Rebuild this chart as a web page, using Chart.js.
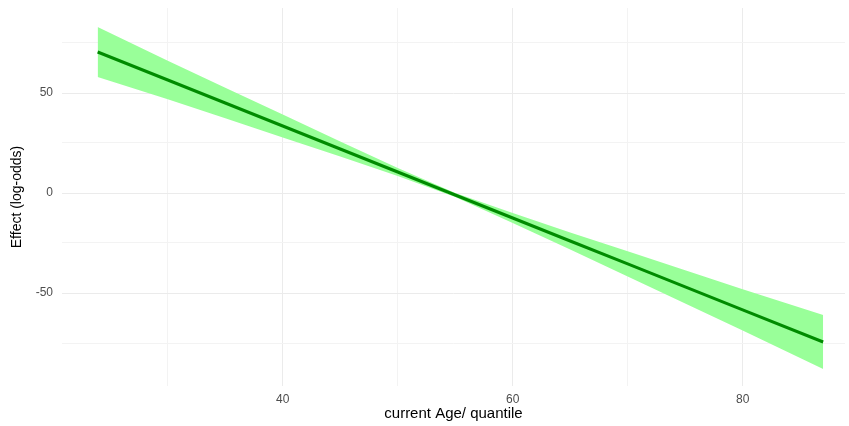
<!DOCTYPE html>
<html>
<head>
<meta charset="utf-8">
<script src="https://cdn.jsdelivr.net/npm/chart.js@4"></script>
<style>
html,body{margin:0;padding:0;background:#fff;}
#wrap{width:849px;height:426px;position:relative;}
</style>
</head>
<body>
<div id="wrap"><canvas id="c" width="849" height="426"></canvas></div>
<script>
const ages  = [23.9, 30, 35, 40, 45, 50, 55, 60, 65, 70, 75, 80, 87];
const fit   = [70.5, 56.5, 45.0, 33.5, 22.0, 10.5, -1.0, -12.5, -24.0, -35.4, -46.9, -58.4, -74.5];
const lower = [58.0, 46.9, 37.4, 27.8, 18.2, 8.5, -2.0, -15.0, -28.3, -41.7, -55.2, -68.7, -88.0];
const upper = [83.0, 66.1, 52.6, 39.2, 25.8, 12.5, 0.0, -10.0, -19.7, -29.1, -38.6, -48.1, -61.0];
const xTicks = [30, 40, 50, 60, 70, 80];
const xLabels = [40, 60, 80];
const yTicks = [-75, -50, -25, 0, 25, 50, 75];
const yLabels = [-50, 0, 50];

const pts = arr => ages.map((a, i) => ({x: a, y: arr[i]}));

new Chart(document.getElementById('c'), {
  type: 'line',
  data: {
    datasets: [
      {data: pts(fit), borderColor: '#008B00', borderWidth: 3, pointRadius: 0, fill: false, tension: 0},
      {data: pts(upper), borderWidth: 0, borderColor: 'rgba(0,0,0,0)', pointRadius: 0, fill: '+1', backgroundColor: 'rgba(153,255,153,1)', tension: 0},
      {data: pts(lower), borderWidth: 0, borderColor: 'rgba(0,0,0,0)', pointRadius: 0, fill: false, tension: 0}
    ]
  },
  options: {
    responsive: false,
    animation: false,
    layout: {padding: {left: 0, right: 4, top: 8, bottom: 0}},
    plugins: {legend: {display: false}, tooltip: {enabled: false}},
    scales: {
      x: {
        type: 'linear', min: 20.8, max: 88.9,
        afterBuildTicks: s => { s.ticks = xTicks.map(v => ({value: v})); },
        afterFit: s => { s.height = 40; s.paddingLeft = 0; s.paddingRight = 0; },
        border: {display: false},
        grid: {drawTicks: false, lineWidth: 1,
          color: c => xLabels.includes(c.tick && c.tick.value) ? '#ebebeb' : '#f3f3f3'},
        ticks: {padding: 6, color: '#4d4d4d', font: {family: 'Liberation Sans, Arial', size: 12},
          maxRotation: 0, autoSkip: false,
          callback: v => xLabels.includes(v) ? String(v) : ''},
        title: {display: true, text: 'current Age/ quantile', color: '#000',
          font: {family: 'Liberation Sans, Arial', size: 15}, padding: {top: 0, bottom: 3}}
      },
      y: {
        type: 'linear', min: -96.5, max: 92.5,
        afterBuildTicks: s => { s.ticks = yTicks.map(v => ({value: v})); },
        afterFit: s => { s.width = 62; s.paddingTop = 0; s.paddingBottom = 0; },
        border: {display: false},
        grid: {drawTicks: false, lineWidth: 1,
          color: c => yLabels.includes(c.tick && c.tick.value) ? '#ebebeb' : '#f3f3f3'},
        ticks: {padding: 9, color: '#4d4d4d', font: {family: 'Liberation Sans, Arial', size: 12},
          autoSkip: false,
          callback: v => yLabels.includes(v) ? String(v) : ''},
        title: {display: true, text: 'Effect (log-odds)', color: '#000',
          font: {family: 'Liberation Sans, Arial', size: 14}, padding: {top: 9, bottom: 0}}
      }
    }
  }
});
</script>
</body>
</html>
